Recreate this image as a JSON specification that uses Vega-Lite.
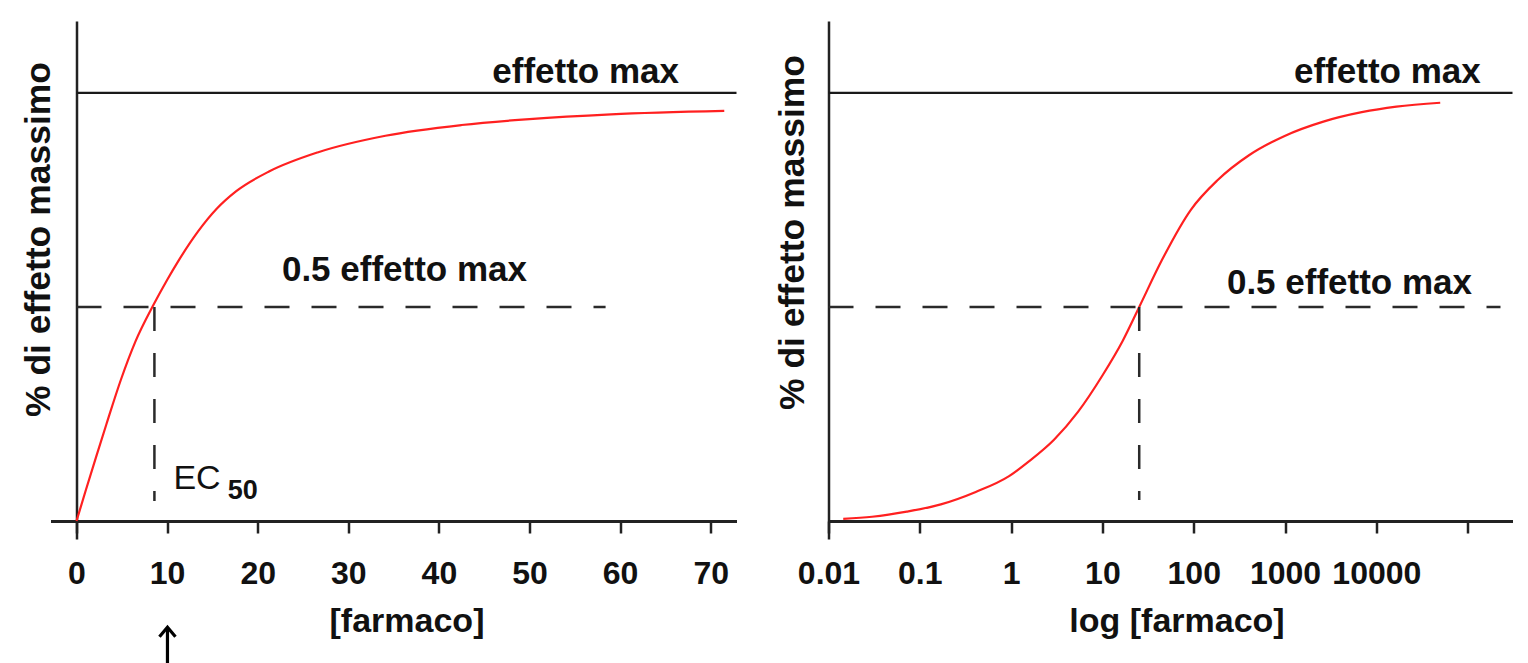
{
  "$schema": "https://vega.github.io/schema/vega-lite/v6.json",
  "background": "white",
  "padding": {"left": 21.5, "top": 21, "right": 0, "bottom": 0},
  "spacing": 37,
  "config": {
    "font": "Liberation Sans",
    "view": {"stroke": null},
    "axis": {
      "grid": false,
      "domainColor": "#222222",
      "tickColor": "#222222",
      "labelColor": "#111111",
      "titleColor": "#111111",
      "labelFont": "Liberation Sans",
      "titleFont": "Liberation Sans",
      "labelFontWeight": "bold",
      "titleFontWeight": "bold",
      "labelFontSize": 32,
      "titleFontSize": 34
    }
  },
  "datasets": {
    "lin": [
      {"c": 0, "e": 0}, {"c": 1, "e": 7.0}, {"c": 2.2, "e": 15.2}, {"c": 3.3, "e": 22.6},
      {"c": 4.9, "e": 33.0}, {"c": 6.5, "e": 41.9}, {"c": 8.5, "e": 50.5}, {"c": 10, "e": 56.3},
      {"c": 11.2, "e": 60.6}, {"c": 13.4, "e": 67.6}, {"c": 15.5, "e": 73.0}, {"c": 17.6, "e": 77.0},
      {"c": 21.3, "e": 81.7}, {"c": 26.6, "e": 86.1}, {"c": 34.1, "e": 90.0}, {"c": 42.5, "e": 92.5},
      {"c": 50, "e": 93.9}, {"c": 59, "e": 95.0}, {"c": 71.5, "e": 95.8}
    ],
    "logc": [
      {"c": 0.0145, "e": 0.5}, {"c": 0.03, "e": 1.0}, {"c": 0.072, "e": 2.2}, {"c": 0.17, "e": 3.9},
      {"c": 0.41, "e": 6.8}, {"c": 0.95, "e": 10.5}, {"c": 1.58, "e": 14.0}, {"c": 2.95, "e": 19.0},
      {"c": 5.4, "e": 25.5}, {"c": 10, "e": 34.0}, {"c": 16.6, "e": 42.0}, {"c": 25.3, "e": 50},
      {"c": 44.7, "e": 60.9}, {"c": 93, "e": 72.7}, {"c": 182, "e": 79.6}, {"c": 407, "e": 85.5},
      {"c": 977, "e": 89.9}, {"c": 2630, "e": 93.3}, {"c": 6920, "e": 95.5}, {"c": 16600, "e": 96.8},
      {"c": 50100, "e": 97.7}
    ],
    "lin_max": [{"c": 0, "c2": 72.85, "e": 100}],
    "lin_half": [{"c": 0, "c2": 58.4, "e": 50}],
    "lin_ec": [{"c": 8.6, "e": 50, "e2": 4.7}],
    "lin_text_bold": [
      {"c": 56.2, "e": 102.3, "label": "effetto max"},
      {"c": 36.2, "e": 56.1, "label": "0.5 effetto max"}
    ],
    "lin_ec_text": [{"c": 10.7, "e": 7.5, "label": "EC"}],
    "lin_ec_sub": [{"c": 16.7, "e": 5.1, "label": "50"}],
    "lin_arrow": [{"c": 10.04, "e": -25.2, "e2": -36}],
    "lin_arrow_head": [{"c": 10.04, "e": -24.8}],
    "log_max": [{"c": 0.01, "c2": 310000, "e": 100}],
    "log_half": [{"c": 0.01, "c2": 229000, "e": 50}],
    "log_ec": [{"c": 25.3, "e": 50, "e2": 4.9}],
    "log_text_bold": [
      {"c": 13200, "e": 102.3, "label": "effetto max"},
      {"c": 5080, "e": 53.0, "label": "0.5 effetto max"}
    ]
  },
  "hconcat": [
    {
      "width": 686,
      "height": 518,
      "encoding": {
        "x": {
          "field": "c", "type": "quantitative",
          "scale": {"domain": [-2.87, 72.85], "nice": false, "zero": false},
          "axis": {
            "title": "[farmaco]",
            "values": [0, 10, 20, 30, 40, 50, 60, 70],
            "offset": -18,
            "domainWidth": 3,
            "tickWidth": 2.5,
            "tickSize": 12,
            "labelPadding": 25,
            "labelOverlap": false,
            "labelFlush": false,
            "titleX": 356,
            "titleY": 100,
            "titleAlign": "center",
            "titleBaseline": "middle"
          }
        },
        "y": {
          "field": "e", "type": "quantitative",
          "scale": {"domain": [-4.2, 116.8], "nice": false, "zero": false},
          "axis": {
            "title": "% di effetto massimo",
            "offset": -26,
            "ticks": false,
            "labels": false,
            "domainWidth": 2.5,
            "titleFontSize": 35.5,
            "titleAngle": -90,
            "titleX": -38,
            "titleY": 218,
            "titleAlign": "center",
            "titleBaseline": "middle"
          }
        }
      },
      "layer": [
        {
          "data": {"name": "lin"},
          "mark": {"type": "line", "color": "#ff2020", "strokeWidth": 2.2, "interpolate": "monotone"}
        },
        {
          "data": {"name": "lin_max"},
          "mark": {"type": "rule", "color": "#1a1a1a", "strokeWidth": 2.2},
          "encoding": {"x2": {"field": "c2"}}
        },
        {
          "data": {"name": "lin_half"},
          "mark": {"type": "rule", "color": "#2a2a2a", "strokeWidth": 2.5, "strokeDash": [25, 22]},
          "encoding": {"x2": {"field": "c2"}}
        },
        {
          "data": {"name": "lin_ec"},
          "mark": {"type": "rule", "color": "#2a2a2a", "strokeWidth": 2.5, "strokeDash": [24, 22]},
          "encoding": {"y2": {"field": "e2"}}
        },
        {
          "data": {"name": "lin_text_bold"},
          "mark": {"type": "text", "font": "Liberation Sans", "fontWeight": "bold", "fontSize": 35, "color": "#111111", "align": "center", "baseline": "alphabetic"},
          "encoding": {"text": {"field": "label"}}
        },
        {
          "data": {"name": "lin_ec_text"},
          "mark": {"type": "text", "font": "Liberation Sans", "fontWeight": "normal", "fontSize": 34, "color": "#111111", "align": "left", "baseline": "alphabetic"},
          "encoding": {"text": {"field": "label"}}
        },
        {
          "data": {"name": "lin_ec_sub"},
          "mark": {"type": "text", "font": "Liberation Sans", "fontWeight": "bold", "fontSize": 27, "color": "#111111", "align": "left", "baseline": "alphabetic"},
          "encoding": {"text": {"field": "label"}}
        },
        {
          "data": {"name": "lin_arrow"},
          "mark": {"type": "rule", "color": "#000000", "strokeWidth": 3.2},
          "encoding": {"y2": {"field": "e2"}}
        },
        {
          "data": {"name": "lin_arrow_head"},
          "mark": {"type": "point", "shape": "M-1,1.2L0,0L1,1.2", "size": 256, "filled": false, "stroke": "#000000", "strokeWidth": 3.2, "opacity": 1}
        }
      ]
    },
    {
      "width": 684,
      "height": 518,
      "encoding": {
        "x": {
          "field": "c", "type": "quantitative",
          "scale": {"type": "log", "domain": [0.01, 310000], "nice": false, "zero": false},
          "axis": {
            "title": "log [farmaco]",
            "values": [0.01, 0.1, 1, 10, 100, 1000, 10000, 100000],
            "labelExpr": "datum.value >= 100000 ? '' : (datum.value < 1 ? format(datum.value, '.2~f') : format(datum.value, 'd'))",
            "offset": -18,
            "domainWidth": 3,
            "tickWidth": 2.5,
            "tickSize": 12,
            "labelPadding": 25,
            "labelOverlap": false,
            "labelFlush": false,
            "titleX": 348,
            "titleY": 100,
            "titleAlign": "center",
            "titleBaseline": "middle"
          }
        },
        "y": {
          "field": "e", "type": "quantitative",
          "scale": {"domain": [-4.2, 116.8], "nice": false, "zero": false},
          "axis": {
            "title": "% di effetto massimo",
            "offset": 0,
            "ticks": false,
            "labels": false,
            "domainWidth": 2.5,
            "titleFontSize": 35.5,
            "titleAngle": -90,
            "titleX": -36,
            "titleY": 211,
            "titleAlign": "center",
            "titleBaseline": "middle"
          }
        }
      },
      "layer": [
        {
          "data": {"name": "logc"},
          "mark": {"type": "line", "color": "#ff2020", "strokeWidth": 2.2, "interpolate": "monotone"}
        },
        {
          "data": {"name": "log_max"},
          "mark": {"type": "rule", "color": "#1a1a1a", "strokeWidth": 2.2},
          "encoding": {"x2": {"field": "c2"}}
        },
        {
          "data": {"name": "log_half"},
          "mark": {"type": "rule", "color": "#2a2a2a", "strokeWidth": 2.5, "strokeDash": [25, 22]},
          "encoding": {"x2": {"field": "c2"}}
        },
        {
          "data": {"name": "log_ec"},
          "mark": {"type": "rule", "color": "#2a2a2a", "strokeWidth": 2.5, "strokeDash": [24, 22]},
          "encoding": {"y2": {"field": "e2"}}
        },
        {
          "data": {"name": "log_text_bold"},
          "mark": {"type": "text", "font": "Liberation Sans", "fontWeight": "bold", "fontSize": 35, "color": "#111111", "align": "center", "baseline": "alphabetic"},
          "encoding": {"text": {"field": "label"}}
        }
      ]
    }
  ]
}
